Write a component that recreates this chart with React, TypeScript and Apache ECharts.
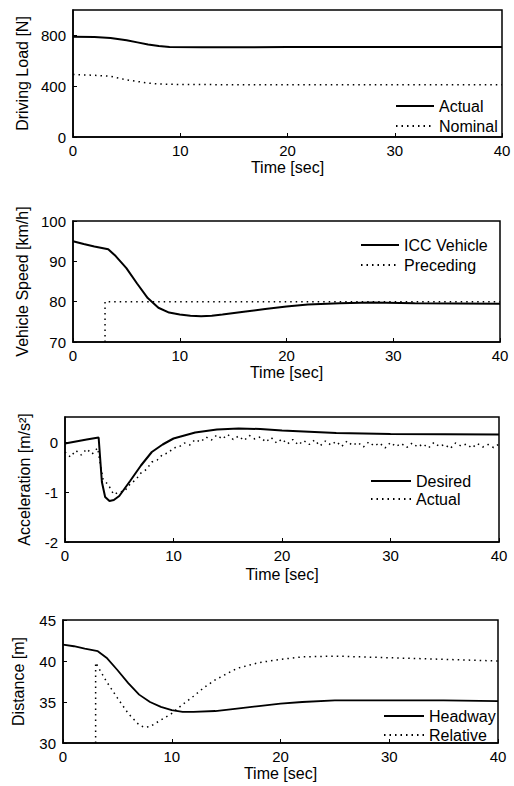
import React, { useEffect, useRef } from 'react';
import * as echarts from 'echarts';

const FONT = "'Liberation Sans', Arial, sans-serif";

// Panel 1: Driving load
const loadActualT = [0, 2, 3.5, 5, 6, 7, 8, 9, 12, 15, 20, 30, 40];
const loadActual = [790, 787, 780, 762, 745, 728, 716, 709, 706, 706, 708, 708, 708];
const loadNominalT = [0, 2, 3.5, 5, 6, 7, 8, 10, 20, 30, 40];
const loadNominal = [492, 486, 478, 450, 437, 425, 417, 413, 411, 411, 411];

// Panel 2: Vehicle speed
const speedT = [0, 1, 2, 3.3, 4, 5, 6, 7, 8, 9, 10, 11, 12, 13, 14, 16, 18, 20, 22, 25, 28, 32, 40];
const iccSpeed = [95, 94.3, 93.7, 93, 91.3, 88.3, 84.5, 80.9, 78.5, 77.3, 76.8, 76.5, 76.4, 76.5, 76.8, 77.5, 78.2, 78.8, 79.3, 79.6, 79.8, 79.6, 79.5];
const precedingT = [3, 3, 40];
const precedingSpeed = [70, 80, 80];

// Panel 3: Acceleration
const desiredT = [0, 1, 2, 3.1, 3.4, 3.7, 4.1, 4.5, 5, 6, 7, 8, 9, 10, 12, 14, 16, 18, 20, 25, 30, 40];
const desiredAcc = [-0.03, 0.01, 0.05, 0.09, -0.8, -1.1, -1.18, -1.16, -1.08, -0.78, -0.47, -0.2, -0.05, 0.07, 0.19, 0.25, 0.27, 0.26, 0.23, 0.18, 0.16, 0.15];
const actualAccT = [
  0, 0.5, 1, 1.5, 2, 2.5, 3, 3.5, 4, 4.5, 5, 5.5, 6, 6.5, 7, 7.5, 8, 8.5, 9, 9.5,
  10, 10.5, 11, 11.5, 12, 12.5, 13, 13.5, 14, 14.5, 15, 15.5, 16, 16.5, 17, 17.5, 18, 18.5, 19, 19.5,
  20, 20.5, 21, 21.5, 22, 22.5, 23, 23.5, 24, 24.5, 25, 25.5, 26, 26.5, 27, 27.5, 28, 28.5, 29, 29.5,
  30, 30.5, 31, 31.5, 32, 32.5, 33, 33.5, 34, 34.5, 35, 35.5, 36, 36.5, 37, 37.5, 38, 38.5, 39, 39.5, 40,
];
const actualAcc = [
  -0.2, -0.3, -0.17, -0.26, -0.14, -0.24, -0.12, -0.74, -0.86, -1.05, -1.0, -0.98, -0.84, -0.76, -0.62, -0.55, -0.4, -0.36, -0.25, -0.22,
  -0.12, -0.1, -0.02, -0.06, 0.05, 0.0, 0.1, 0.04, 0.14, 0.06, 0.15, 0.05, 0.12, 0.03, 0.13, 0.06, 0.1, 0.0, 0.09, -0.02,
  0.06, -0.04, 0.05, -0.06, 0.03, -0.05, 0.04, -0.08, 0.02, -0.06, 0.01, -0.09, 0.02, -0.07, -0.01, -0.1, 0.0, -0.08, -0.02, -0.12,
  -0.01, -0.09, -0.03, -0.11, -0.02, -0.1, -0.04, -0.12, -0.01, -0.09, -0.05, -0.13, -0.02, -0.08, -0.04, -0.12, -0.03, -0.1, -0.05, -0.11, -0.04,
];

// Panel 4: Distance
const headwayT = [0, 1, 2, 3.2, 4, 5, 6, 7, 8, 9, 10, 11, 12, 14, 16, 18, 20, 22, 25, 30, 35, 40];
const headway = [42.0, 41.8, 41.5, 41.2, 40.4, 38.9, 37.3, 35.9, 35.0, 34.4, 34.0, 33.8, 33.8, 33.9, 34.2, 34.5, 34.8, 35.0, 35.2, 35.2, 35.2, 35.1];
const relativeT = [3, 3, 4, 5, 6, 7, 7.5, 8, 9, 10, 11, 12, 13, 14, 15, 16, 18, 20, 22, 25, 30, 35, 40];
const relative = [30, 39.8, 37.5, 35.5, 33.6, 32.2, 31.9, 32.0, 32.8, 33.6, 34.7, 35.7, 36.8, 37.7, 38.4, 39.1, 39.8, 40.2, 40.5, 40.6, 40.4, 40.2, 40.0];

const xTicks = [0, 10, 20, 30, 40];

const zip = (t: number[], v: number[]) => t.map((x, i) => [x, v[i]]);

const SOLID = { color: '#000', width: 2, type: 'solid' as const };
const DOTTED = { color: '#000', width: 1.5, type: [1.5, 4] as any };

function lineSeries(name: string, idx: number, t: number[], v: number[], style: any) {
  return {
    name,
    type: 'line',
    xAxisIndex: idx,
    yAxisIndex: idx,
    data: zip(t, v),
    symbol: 'none',
    showSymbol: false,
    lineStyle: style,
    itemStyle: { color: '#000' },
    silent: true,
  };
}

const textBase = { color: '#000', fontFamily: FONT, fontSize: 15 };

function xAxis(idx: number, nameGap: number) {
  return {
    type: 'value',
    gridIndex: idx,
    min: xTicks[0],
    max: xTicks[xTicks.length - 1],
    interval: 10,
    name: 'Time [sec]',
    nameLocation: 'middle',
    nameGap,
    nameTextStyle: { ...textBase, fontSize: 16 },
    axisLine: { show: true, onZero: false, lineStyle: { color: '#000', width: 1.5 } },
    axisTick: { show: true, inside: true, length: 4, lineStyle: { color: '#000', width: 1 } },
    axisLabel: { ...textBase, margin: 6 },
    splitLine: { show: false },
  };
}

function yAxis(idx: number, name: string, min: number, max: number, interval: number, nameGap: number, hideMax: boolean) {
  return {
    type: 'value',
    gridIndex: idx,
    min,
    max,
    interval,
    name,
    nameLocation: 'middle',
    nameGap,
    nameTextStyle: { ...textBase, fontSize: 16 },
    axisLine: { show: true, onZero: false, lineStyle: { color: '#000', width: 1.5 } },
    axisTick: { show: true, inside: true, length: 4, lineStyle: { color: '#000', width: 1 } },
    axisLabel: { ...textBase, margin: 7, showMaxLabel: !hideMax },
    splitLine: { show: false },
  };
}

const gridBase = { show: true, borderColor: '#000', borderWidth: 1.5, backgroundColor: 'transparent', containLabel: false };

function legend(names: string[], left: number, top: number, itemWidth: number, itemGap: number) {
  return {
    data: names,
    orient: 'vertical',
    left,
    top,
    itemWidth,
    itemHeight: 14,
    itemGap,
    selectedMode: false,
    itemStyle: { opacity: 0 },
    textStyle: { ...textBase, fontSize: 16 },
    formatter: (n: string) => n.replace(' (acc)', ''),
  };
}

const option: any = {
  animation: false,
  backgroundColor: '#fff',
  grid: [
    { ...gridBase, left: 73, top: 10, width: 429, height: 127 },
    { ...gridBase, left: 73, top: 221, width: 427, height: 121 },
    { ...gridBase, left: 65, top: 417, width: 434, height: 125 },
    { ...gridBase, left: 63, top: 620, width: 435, height: 123 },
  ],
  xAxis: [xAxis(0, 22), xAxis(1, 22), xAxis(2, 24), xAxis(3, 22)],
  yAxis: [
    yAxis(0, 'Driving Load [N]', 0, 1000, 400, 42, true),
    yAxis(1, 'Vehicle Speed [km/h]', 70, 100, 10, 42, false),
    yAxis(2, 'Acceleration [m/s²]', -2, 0.5, 1, 33, true),
    yAxis(3, 'Distance [m]', 30, 45, 5, 37, false),
  ],
  legend: [
    legend(['Actual', 'Nominal'], 390, 93, 38, 4),
    legend(['ICC Vehicle', 'Preceding'], 355, 232, 38, 4),
    legend(['Desired', 'Actual (acc)'], 365, 468, 40, 2),
    legend(['Headway', 'Relative'], 378, 703, 40, 3),
  ],
  series: [
    lineSeries('Actual', 0, loadActualT, loadActual, SOLID),
    lineSeries('Nominal', 0, loadNominalT, loadNominal, DOTTED),
    lineSeries('ICC Vehicle', 1, speedT, iccSpeed, SOLID),
    lineSeries('Preceding', 1, precedingT, precedingSpeed, DOTTED),
    lineSeries('Desired', 2, desiredT, desiredAcc, SOLID),
    lineSeries('Actual (acc)', 2, actualAccT, actualAcc, DOTTED),
    lineSeries('Headway', 3, headwayT, headway, { ...SOLID, width: 1.8 }),
    lineSeries('Relative', 3, relativeT, relative, DOTTED),
  ],
};

export default function App() {
  const ref = useRef<HTMLDivElement>(null);
  useEffect(() => {
    document.body.style.margin = '0';
    const chart = echarts.init(ref.current as HTMLDivElement, null, { renderer: 'svg' });
    chart.setOption(option);
    return () => chart.dispose();
  }, []);
  return <div ref={ref} style={{ width: 514, height: 786 }} />;
}
